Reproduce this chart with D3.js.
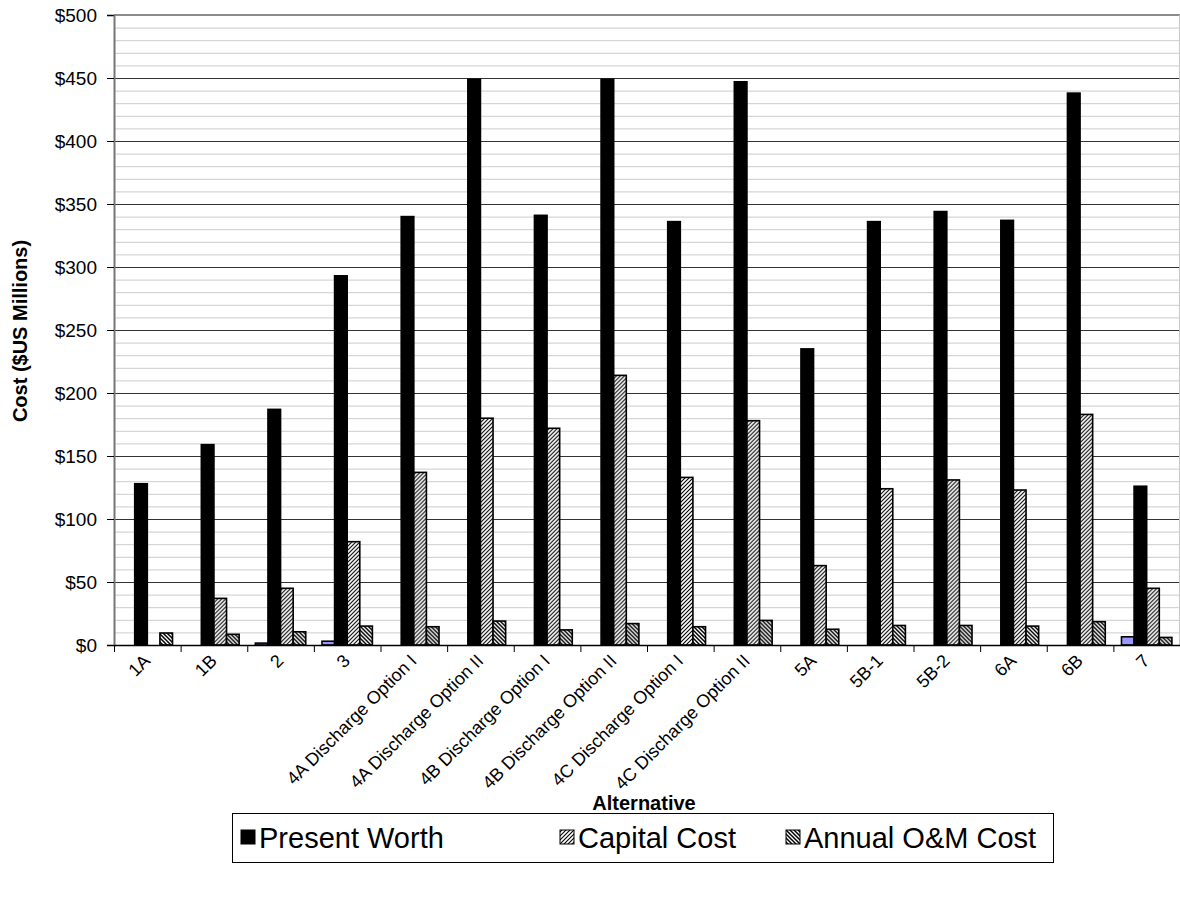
<!DOCTYPE html>
<html>
<head>
<meta charset="utf-8">
<script src="https://cdn.jsdelivr.net/npm/d3@7"></script>
<style>
  html, body { margin: 0; padding: 0; background: #fff; }
  svg { display: block; font-family: "Liberation Sans", Arial, sans-serif; }
</style>
</head>
<body>
<svg id="chart" width="1180" height="920"></svg>
<script>
const categories = ["1A","1B","2","3","4A Discharge Option I","4A Discharge Option II","4B Discharge Option I","4B Discharge Option II","4C Discharge Option I","4C Discharge Option II","5A","5B-1","5B-2","6A","6B","7"];
const otherCost    = [0, 0, 1.5, 3, 0, 0, 0, 0, 0, 0, 0, 0, 0, 0, 0, 6.5];
const presentWorth = [128, 159, 187, 293, 340, 449, 341, 449, 336, 447, 235, 336, 344, 337, 438, 126];
const capitalCost  = [0, 37, 45, 82, 137, 180, 172, 214, 133, 178, 63, 124, 131, 123, 183, 45];
const omCost       = [9.5, 8.5, 10.5, 15, 14.5, 19, 12, 17, 14.5, 19.5, 12.5, 15.5, 15.5, 15, 18.5, 6];
const yTicks = [0, 50, 100, 150, 200, 250, 300, 350, 400, 450, 500];
const seriesKeys = ["other", "pw", "cap", "om"];
const legendNames = ["Present Worth", "Capital Cost", "Annual O&M Cost"];

(function () {
const svg = d3.select("#chart");
const L = 114, R = 1180, T = 15, B = 645;

// patterns
const defs = svg.append("defs");
const pCap = defs.append("pattern").attr("id", "hatchCap").attr("patternUnits", "userSpaceOnUse")
  .attr("width", 4).attr("height", 4);
pCap.append("rect").attr("width", 4).attr("height", 4).attr("fill", "#fff");
pCap.append("path").attr("d", "M-1,1 L1,-1 M0,4 L4,0 M3,5 L5,3").attr("stroke", "#000").attr("stroke-width", 1.1);
const pOm = defs.append("pattern").attr("id", "hatchOm").attr("patternUnits", "userSpaceOnUse")
  .attr("width", 4).attr("height", 4);
pOm.append("rect").attr("width", 4).attr("height", 4).attr("fill", "#fff");
pOm.append("path").attr("d", "M-1,3 L1,5 M0,0 L4,4 M3,-1 L5,1").attr("stroke", "#000").attr("stroke-width", 1.5);

const fills = { other: "#9999ff", pw: "#000", cap: "url(#hatchCap)", om: "url(#hatchOm)" };

const y = d3.scaleLinear().domain([0, 500]).range([B, T]);
const x0 = d3.scaleBand().domain(categories).range([L, R]).paddingInner(0).paddingOuter(0);
const x1 = d3.scaleBand().domain(seriesKeys).range([0, x0.bandwidth()]).paddingInner(0).paddingOuter(0.643);

// minor grid
const minor = d3.range(10, 500, 10).filter(v => v % 50 !== 0);
svg.append("g").selectAll("line").data(minor).join("line")
  .attr("x1", L).attr("x2", R).attr("y1", d => y(d) + 0.5).attr("y2", d => y(d) + 0.5)
  .attr("stroke", "#cccccc").attr("stroke-width", 1);
// major grid
svg.append("g").selectAll("line").data(yTicks.filter(v => v > 0 && v < 500)).join("line")
  .attr("x1", L).attr("x2", R).attr("y1", d => y(d) + 0.5).attr("y2", d => y(d) + 0.5)
  .attr("stroke", "#333333").attr("stroke-width", 1);
// plot border
svg.append("line").attr("x1", L).attr("x2", R).attr("y1", T).attr("y2", T)
  .attr("stroke", "#8c8c8c").attr("stroke-width", 2);
svg.append("line").attr("x1", R - 0.5).attr("x2", R - 0.5).attr("y1", T).attr("y2", B)
  .attr("stroke", "#c8c8c8").attr("stroke-width", 1);

// bars
const rows = categories.map((c, i) => ({ cat: c, other: otherCost[i], pw: presentWorth[i], cap: capitalCost[i], om: omCost[i] }));
const groups = svg.append("g").selectAll("g").data(rows).join("g")
  .attr("transform", d => `translate(${x0(d.cat)},0)`);
groups.selectAll("rect").data(d => seriesKeys.map(k => ({ key: k, value: d[k] })).filter(e => e.value > 0)).join("rect")
  .attr("x", d => x1(d.key))
  .attr("width", x1.bandwidth())
  .attr("y", d => y(d.value))
  .attr("height", d => y(0) - y(d.value))
  .attr("fill", d => fills[d.key])
  .attr("stroke", "#000").attr("stroke-width", 1.6);

// y axis
const yAxis = d3.axisLeft(y).tickValues(yTicks).tickSize(7).tickPadding(10).tickFormat(d => "$" + d);
const gy = svg.append("g").attr("transform", `translate(${L},0)`).call(yAxis);
gy.select(".domain").attr("stroke", "#777").attr("stroke-width", 2);
gy.selectAll(".tick line").attr("stroke", "#000");
gy.selectAll(".tick text").attr("font-size", 19).attr("fill", "#000").attr("font-family", "Liberation Sans, Arial, sans-serif");

// x axis
const xAxis = d3.axisBottom(x0).tickSize(0).tickFormat("");
const gx = svg.append("g").attr("transform", `translate(0,${B})`).call(xAxis);
gx.select(".domain").attr("stroke", "#000").attr("stroke-width", 1.5);
svg.append("g").selectAll("line").data(d3.range(categories.length)).join("line")
  .attr("x1", i => x0(categories[i]) + 0.5).attr("x2", i => x0(categories[i]) + 0.5)
  .attr("y1", B).attr("y2", B + 7).attr("stroke", "#000").attr("stroke-width", 1);

svg.append("g").selectAll("text").data(categories).join("text")
  .attr("transform", d => `translate(${x0(d) + x0.bandwidth() / 2 + 4},662) rotate(-45)`)
  .attr("text-anchor", "end")
  .attr("font-size", 18)
  .attr("fill", "#000")
  .text(d => d);

// axis titles
svg.append("text").attr("transform", "translate(27,331) rotate(-90)")
  .attr("text-anchor", "middle").attr("font-size", 20).attr("font-weight", "bold").text("Cost ($US Millions)");
svg.append("text").attr("x", (L + R) / 2 - 3).attr("y", 810)
  .attr("text-anchor", "middle").attr("font-size", 20).attr("font-weight", "bold").text("Alternative");

// legend
const lg = svg.append("g");
lg.append("rect").attr("x", 232.5).attr("y", 813.5).attr("width", 821).attr("height", 49)
  .attr("fill", "#fff").attr("stroke", "#000").attr("stroke-width", 1);
const legendFills = [fills.pw, fills.cap, fills.om];
const legendX = [241, 560, 786];
legendNames.forEach((name, i) => {
  lg.append("rect").attr("x", legendX[i]).attr("y", 830).attr("width", 14).attr("height", 14)
    .attr("fill", legendFills[i]).attr("stroke", "#000").attr("stroke-width", 1);
  lg.append("text").attr("x", legendX[i] + 18).attr("y", 848).attr("font-size", 29).attr("fill", "#000").text(name);
});
})();
</script>
</body>
</html>
